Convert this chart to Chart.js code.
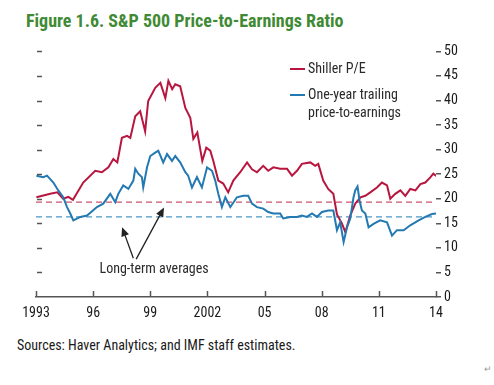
<!DOCTYPE html>
<html>
<head>
<meta charset="utf-8">
<title>S&amp;P 500 Price-to-Earnings Ratio</title>
<script src="https://cdn.jsdelivr.net/npm/chart.js"></script>
<style>
  body { margin: 0; background: #fff; width: 494px; height: 385px; position: relative; overflow: hidden;
         font-family: 'Liberation Sans Narrow', 'Roboto Condensed', 'Arial Narrow', Roboto, sans-serif; }
  #title { position: absolute; left: 26px; top: 10px; font-size: 18px; font-weight: bold; color: #3f8a34; white-space: nowrap; }
  #chart-box { position: absolute; left: 0; top: 40px; width: 494px; height: 285px; }
  #sources { position: absolute; left: 17px; top: 337px; font-size: 14px; color: #1a1a1a; white-space: nowrap; }
  #mark { position: absolute; left: 484px; top: 364px; font-size: 9px; color: #999; }
</style>
</head>
<body>
<div id="title">Figure 1.6. S&amp;P 500 Price-to-Earnings Ratio</div>
<div id="chart-box"><canvas id="chart"></canvas></div>
<div id="sources">Sources: Haver Analytics; and IMF staff estimates.</div>
<div id="mark">↵</div>

<script>
  // Shiller P/E
  const shillerYears = [1993.02, 1993.75, 1994.12, 1994.43, 1994.70, 1994.94, 1995.48, 1996.11, 1996.46, 1996.80,
    1997.06, 1997.27, 1997.51, 1997.78, 1997.95, 1998.21, 1998.47, 1998.73, 1998.89, 1999.26,
    1999.53, 1999.79, 1999.95, 2000.15, 2000.31, 2000.57, 2000.84, 2001.10, 2001.26, 2001.47,
    2001.73, 2001.94, 2002.15, 2002.31, 2002.57, 2002.83, 2003.09, 2003.36, 2003.72, 2004.08,
    2004.34, 2004.60, 2004.93, 2005.19, 2005.46, 2005.82, 2006.18, 2006.44, 2006.70, 2006.96,
    2007.40, 2007.66, 2007.82, 2008.08, 2008.34, 2008.61, 2008.80, 2009.06, 2009.24, 2009.50,
    2009.76, 2010.03, 2010.29, 2010.55, 2010.90, 2011.16, 2011.43, 2011.60, 2011.86, 2012.13,
    2012.39, 2012.65, 2012.92, 2013.18, 2013.44, 2013.71, 2013.86, 2014.10];
  const shillerValues = [20.3, 21.0, 21.3, 20.0, 20.4, 19.8, 23.3, 25.7, 25.4, 26.4,
    28.1, 27.4, 32.4, 32.8, 32.4, 36.8, 37.8, 33.7, 39.9, 42.6,
    43.6, 40.5, 44.0, 42.3, 43.3, 42.9, 38.5, 36.5, 32.2, 33.5,
    27.7, 30.4, 29.8, 27.7, 23.7, 23.1, 21.3, 23.7, 25.4, 27.4,
    26.0, 25.4, 26.7, 25.7, 26.4, 26.1, 26.1, 24.7, 25.7, 27.1,
    27.4, 26.7, 27.1, 23.7, 22.0, 21.0, 16.8, 15.0, 13.2, 16.6,
    19.0, 20.3, 20.6, 21.3, 22.3, 23.3, 22.7, 20.0, 21.0, 21.7,
    20.6, 22.0, 21.7, 23.0, 23.3, 24.4, 25.1, 24.4];

  // One-year trailing price-to-earnings
  const trailingYears = [1993.02, 1993.38, 1993.58, 1993.91, 1994.17, 1994.43, 1994.63, 1994.80, 1994.96, 1995.33,
    1995.68, 1996.20, 1996.53, 1996.90, 1997.16, 1997.32, 1997.58, 1997.85, 1998.11, 1998.21,
    1998.37, 1998.56, 1998.63, 1998.83, 1999.00, 1999.26, 1999.42, 1999.68, 1999.88, 2000.14,
    2000.31, 2000.57, 2000.84, 2000.99, 2001.19, 2001.45, 2001.71, 2001.98, 2002.24, 2002.41,
    2002.57, 2002.76, 2002.94, 2003.20, 2003.55, 2003.88, 2004.14, 2004.34, 2004.60, 2004.93,
    2005.19, 2005.46, 2005.82, 2005.98, 2006.35, 2006.70, 2006.96, 2007.22, 2007.49, 2007.75,
    2008.01, 2008.34, 2008.61, 2008.80, 2008.97, 2009.15, 2009.33, 2009.50, 2009.67, 2009.76,
    2009.88, 2009.99, 2010.11, 2010.29, 2010.46, 2010.72, 2011.07, 2011.43, 2011.69, 2011.95,
    2012.30, 2012.65, 2013.09, 2013.44, 2013.79, 2014.05];
  const trailingValues = [24.7, 24.4, 24.7, 23.3, 21.7, 20.3, 18.3, 17.0, 15.6, 16.3,
    16.6, 18.3, 19.0, 21.0, 19.3, 21.0, 22.7, 22.0, 23.7, 26.1,
    25.1, 24.4, 22.3, 26.4, 28.7, 29.4, 29.8, 27.4, 29.1, 27.7,
    28.7, 27.4, 25.4, 24.7, 22.3, 24.4, 22.3, 26.4, 25.7, 23.7,
    21.0, 18.3, 20.3, 18.3, 20.3, 20.6, 20.6, 19.0, 18.3, 18.0,
    17.3, 17.0, 17.0, 16.0, 16.3, 16.3, 16.6, 16.3, 17.0, 16.3,
    17.3, 17.6, 17.6, 13.6, 15.2, 11.2, 14.2, 16.0, 20.3, 21.7,
    22.5, 19.6, 17.6, 17.0, 14.2, 14.9, 15.6, 15.2, 12.5, 13.6,
    13.6, 14.6, 15.6, 16.3, 16.9, 17.0];

  // Long-term averages
  const shillerAverage = 19.3;
  const trailingAverage = 16.3;

  const xTickYears = [1993, 1996, 1999, 2002, 2005, 2008, 2011, 2014];
  const xTickLabels = ['1993', '96', '99', '2002', '05', '08', '11', '14'];
  const yTicks = [0, 5, 10, 15, 20, 25, 30, 35, 40, 45, 50];

  const RED = '#b8163f';
  const BLUE = '#2379b2';
  const FONT = "'Liberation Sans Narrow', 'Roboto Condensed', 'Arial Narrow', Roboto, sans-serif";

  function toPoints(xs, ys) {
    return xs.map((x, i) => ({ x: x, y: ys[i] }));
  }

  // legend, "Long-term averages" note and the small in-plot tick marks
  const decorations = {
    id: 'decorations',
    afterDatasetsDraw(chart) {
      const ctx = chart.ctx;
      const area = chart.chartArea;
      const xs = chart.scales.x;
      const ys = chart.scales.y;
      ctx.save();

      // left short tick marks
      ctx.strokeStyle = '#555';
      ctx.lineWidth = 1.5;
      yTicks.forEach(v => {
        if (v === 0) return;
        const y = Math.round(ys.getPixelForValue(v)) + 0.5;
        ctx.beginPath();
        ctx.moveTo(area.left + 1, y);
        ctx.lineTo(area.left + 6, y);
        ctx.stroke();
      });

      // x tick marks pointing up
      xTickYears.forEach(v => {
        const x = Math.round(xs.getPixelForValue(v)) + 0.5;
        ctx.beginPath();
        ctx.moveTo(x, area.bottom);
        ctx.lineTo(x, area.bottom - 6);
        ctx.stroke();
      });

      // legend
      ctx.font = '14px ' + FONT;
      ctx.fillStyle = '#2a2a2a';
      ctx.textBaseline = 'middle';
      ctx.lineWidth = 2;
      ctx.strokeStyle = RED;
      ctx.beginPath(); ctx.moveTo(290, 29); ctx.lineTo(305, 29); ctx.stroke();
      ctx.fillText('Shiller P/E', 308, 29);
      ctx.strokeStyle = BLUE;
      ctx.beginPath(); ctx.moveTo(290, 55); ctx.lineTo(305, 55); ctx.stroke();
      ctx.fillText('One-year trailing', 308, 55);
      ctx.fillText('price-to-earnings', 308, 73);

      // annotation
      ctx.textAlign = 'center';
      ctx.fillText('Long-term averages', xs.getPixelForValue(1999.2), ys.getPixelForValue(5.7));
      const arrows = [[1998.11, 7.9, 1997.52, 14.2], [1998.26, 7.7, 1999.72, 18.2]];
      ctx.strokeStyle = '#222';
      ctx.fillStyle = '#222';
      ctx.lineWidth = 1.3;
      arrows.forEach(a => {
        const x0 = xs.getPixelForValue(a[0]), y0 = ys.getPixelForValue(a[1]);
        const x1 = xs.getPixelForValue(a[2]), y1 = ys.getPixelForValue(a[3]);
        const ang = Math.atan2(y1 - y0, x1 - x0);
        ctx.beginPath(); ctx.moveTo(x0, y0); ctx.lineTo(x1 - 6 * Math.cos(ang), y1 - 6 * Math.sin(ang)); ctx.stroke();
        ctx.beginPath();
        ctx.moveTo(x1, y1);
        ctx.lineTo(x1 - 9 * Math.cos(ang) + 4 * Math.sin(ang), y1 - 9 * Math.sin(ang) - 4 * Math.cos(ang));
        ctx.lineTo(x1 - 9 * Math.cos(ang) - 4 * Math.sin(ang), y1 - 9 * Math.sin(ang) + 4 * Math.cos(ang));
        ctx.closePath();
        ctx.fill();
      });
      ctx.restore();
    }
  };

  new Chart(document.getElementById('chart'), {
    type: 'line',
    data: {
      datasets: [
        {
          label: 'One-year trailing price-to-earnings',
          data: toPoints(trailingYears, trailingValues),
          borderColor: BLUE, borderWidth: 2, pointRadius: 0, tension: 0
        },
        {
          label: 'Shiller P/E',
          data: toPoints(shillerYears, shillerValues),
          borderColor: RED, borderWidth: 2, pointRadius: 0, tension: 0
        },
        {
          label: 'Shiller average',
          data: [{ x: 1993, y: shillerAverage }, { x: 2014, y: shillerAverage }],
          borderColor: '#c9566f', borderWidth: 1.3, borderDash: [6, 4], pointRadius: 0
        },
        {
          label: 'Trailing average',
          data: [{ x: 1993, y: trailingAverage }, { x: 2014, y: trailingAverage }],
          borderColor: '#4b98c6', borderWidth: 1.3, borderDash: [6, 4], pointRadius: 0
        }
      ]
    },
    options: {
      responsive: true,
      maintainAspectRatio: false,
      animation: false,
      layout: { padding: { left: 36, top: 10, right: 0, bottom: 0 } },
      plugins: { legend: { display: false }, tooltip: { enabled: false } },
      scales: {
        x: {
          type: 'linear', min: 1993, max: 2014,
          afterBuildTicks: scale => { scale.ticks = xTickYears.map(v => ({ value: v })); },
          afterFit: scale => { scale.height = 28; },
          grid: { display: false, drawTicks: false },
          border: { display: true, color: '#555', width: 1.5 },
          ticks: {
            color: '#1a1a1a', padding: 8, maxRotation: 0,
            font: { family: FONT, size: 14 },
            callback: v => xTickLabels[xTickYears.indexOf(v)]
          }
        },
        y: {
          position: 'right', min: 0, max: 50,
          afterBuildTicks: scale => { scale.ticks = yTicks.map(v => ({ value: v })); },
          afterFit: scale => { scale.width = 58; },
          grid: { drawOnChartArea: false, drawTicks: true, tickLength: 5, color: '#555', lineWidth: 1.5 },
          border: { display: false },
          ticks: { color: '#1a1a1a', padding: 3, font: { family: FONT, size: 14 } }
        }
      }
    },
    plugins: [decorations]
  });
</script>
</body>
</html>
